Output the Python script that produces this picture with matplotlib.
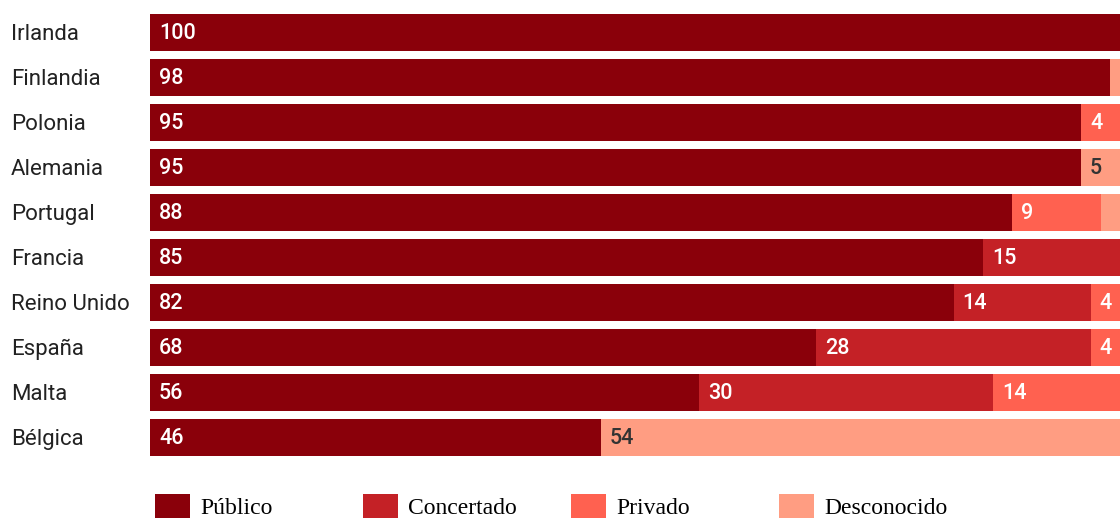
import matplotlib.pyplot as plt
from matplotlib.patches import Rectangle
from matplotlib import transforms

paises = ['Irlanda', 'Finlandia', 'Polonia', 'Alemania', 'Portugal',
          'Francia', 'Reino Unido', 'España', 'Malta', 'Bélgica']
publico = [100, 98, 95, 95, 88, 85, 82, 68, 56, 46]
concertado = [0, 0, 0, 0, 0, 15, 14, 28, 30, 0]
privado = [0, 0, 4, 0, 9, 0, 4, 4, 14, 0]
desconocido = [0, 2, 1, 5, 3, 0, 0, 0, 0, 54]

series = [('Público', publico, '#8a000a', 'white'),
          ('Concertado', concertado, '#c42126', 'white'),
          ('Privado', privado, '#ff6150', 'white'),
          ('Desconocido', desconocido, '#ff9d82', '#333333')]

W, H = 1120, 518
fig = plt.figure(figsize=(W / 100, H / 100), dpi=100)
ax = fig.add_axes([150 / W, 58 / H, 980 / W, 450 / H])

y = list(range(len(paises)))
left = [0] * len(paises)
for nombre, vals, color, tcolor in series:
    ax.barh(y, vals, left=left, height=0.82, color=color, linewidth=0)
    for i, v in enumerate(vals):
        if v >= 4:
            ax.annotate(str(v), (left[i], i), xytext=(9, -1),
                        textcoords='offset pixels', va='center', ha='left',
                        color=tcolor, fontsize=15.5, family='Roboto',
                        fontweight='medium')
    left = [a + b for a, b in zip(left, vals)]

ax.set_xlim(0, 100)
ax.set_ylim(len(paises) - 0.5, -0.5)
ax.axis('off')

# nombres de los países a la izquierda
trans = transforms.blended_transform_factory(fig.transFigure, ax.transData)
for i, p in enumerate(paises):
    ax.annotate(p, (11 / W, i), xycoords=trans, xytext=(0, -2),
                textcoords='offset pixels', ha='left', va='center',
                fontsize=16, family='Roboto', color='#222222')

# leyenda
for k, (nombre, vals, color, tcolor) in enumerate(series):
    x0 = 155 + 208 * k
    fig.add_artist(Rectangle((x0 / W, 0), 35 / W, 24 / H,
                             transform=fig.transFigure, color=color, lw=0))
    fig.text((x0 + 45) / W, 10 / H, nombre, ha='left', va='center',
             fontsize=17, family='Liberation Serif', color='black')

fig.savefig('out.png', dpi=100)
